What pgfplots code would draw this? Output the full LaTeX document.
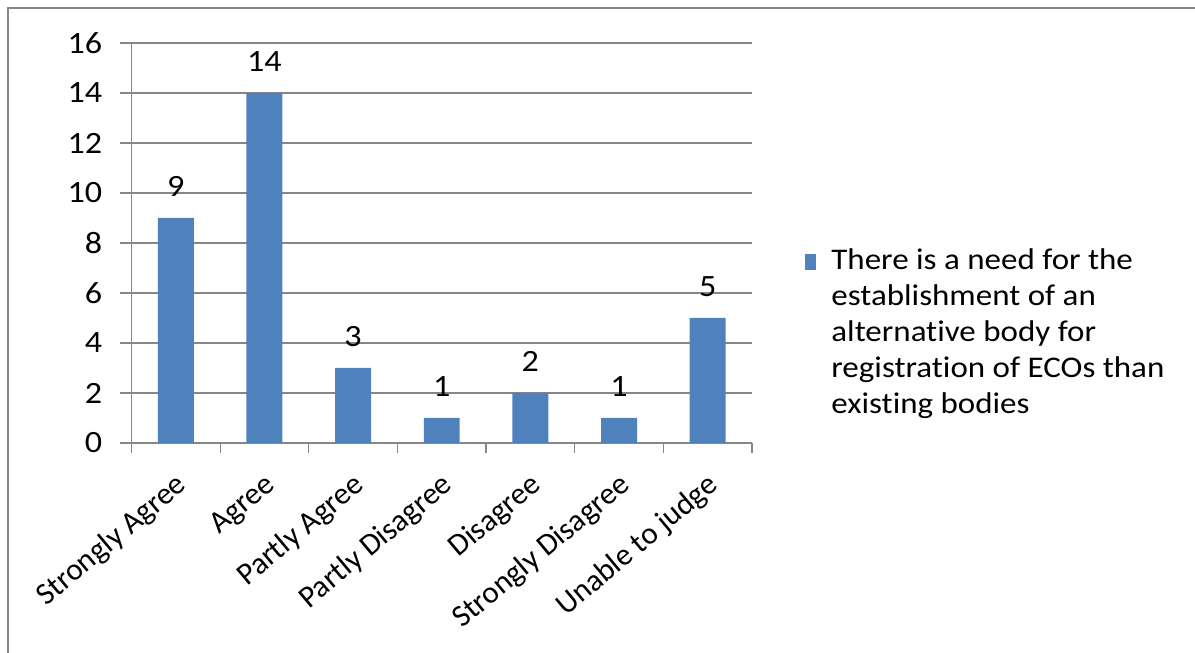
\documentclass[border=0pt]{standalone}
\usepackage{fontspec}
\setmainfont{Carlito}[FakeStretch=1.1, Ligatures=NoCommon]
\newfontfamily\xlabfont{Carlito}[Ligatures=NoCommon]
\usepackage{pgfplots}
\pgfplotsset{compat=1.18}
\definecolor{barblue}{HTML}{4F81BD}
\definecolor{gridgray}{HTML}{868686}
\definecolor{bordergray}{HTML}{878787}
\begin{document}
\begin{tikzpicture}
\useasboundingbox (0,0) rectangle (597.5pt,326.5pt);
\draw[bordergray, line width=1.2pt] (4pt,0) -- (4pt,322.5pt) -- (597.5pt,322.5pt);
\begin{axis}[
  at={(65.75pt,105pt)}, anchor=south west,
  scale only axis, width=310.25pt, height=200pt,
  xmin=-0.5, xmax=6.5, ymin=0, ymax=16,
  ytick={0,2,...,16},
  axis lines=left, axis line style={-, gridgray, line width=0.6pt},
  ymajorgrids, grid style={gridgray, line width=0.6pt},
  tick align=outside, major tick length=6pt, minor tick length=5pt,
  ytick style={gridgray, line width=0.6pt},
  xtick={0,...,6},
  xticklabels={Strongly Agree, Agree, Partly Agree, Partly Disagree, Disagree, Strongly Disagree, Unable to judge},
  major x tick style={draw=none},
  minor xtick={-0.5,0.5,...,6.5},
  minor x tick style={gridgray, line width=0.6pt},
  /pgf/number format/assume math mode=true,
  yticklabel style={font=\fontsize{15.5pt}{18pt}\selectfont, inner sep=0pt, xshift=-8.5pt},
  xticklabel style={font=\xlabfont\fontsize{15.5pt}{18pt}\selectfont, inner sep=0pt, xshift=3.5pt, yshift=-13.2pt, rotate=40, anchor=east},
  legend style={draw=none, fill=none, inner sep=0pt, column sep=7.5pt,
    at={(1.0854,0.4975)}, anchor=north west,
    font=\fontsize{15pt}{18pt}\selectfont, nodes={inner sep=0pt}},
  legend cell align=left,
  legend image code/.code={\fill[barblue] (0pt,-6pt) rectangle (5.5pt,2pt);},
  nodes near coords,
  every node near coord/.append style={font=\fontsize{15.5pt}{18pt}\selectfont, inner sep=0pt, anchor=south, yshift=10.5pt},
]
\addplot[ybar, fill=barblue, draw=none, bar width=0.406]
  coordinates {(0,9) (1,14) (2,3) (3,1) (4,2) (5,1) (6,5)};
\addlegendentry{\begin{tabular}[t]{@{}l@{}}There is a need for the\\establishment of an\\alternative body for\\registration of ECOs than\\existing bodies\end{tabular}}
\end{axis}
\end{tikzpicture}
\end{document}
